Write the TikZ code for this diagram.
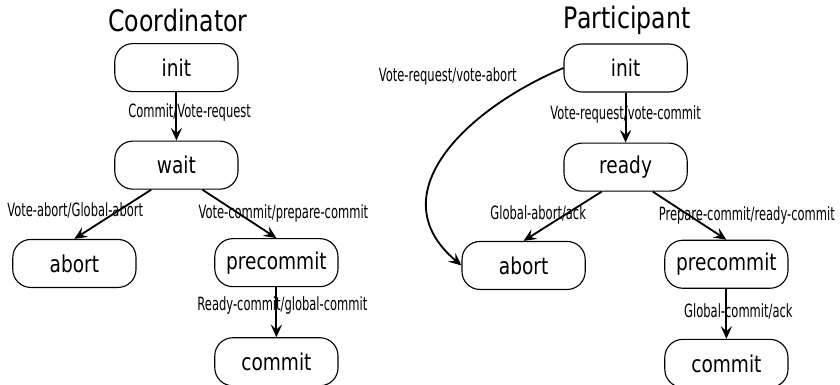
\documentclass[tikz,border=0pt]{standalone}
\usepackage{fontspec}
\newfontfamily\titlefont[FakeStretch=0.8]{DejaVu Sans}
\newfontfamily\labelfont[FakeStretch=0.63]{DejaVu Sans}
\usepackage{tikz}
\usetikzlibrary{arrows.meta,positioning}
\tikzset{
  state_box/.style={draw,line width=0.8pt,rounded corners=0.45cm,
    minimum width=3.08cm,minimum height=1.2cm,inner sep=1pt,
    font=\titlefont\fontsize{16.5}{18}\selectfont},
  title_txt/.style={font=\titlefont\fontsize{21}{24}\selectfont,inner sep=0pt},
  lbl/.style={font=\labelfont\fontsize{13}{14}\selectfont,inner sep=0pt},
  arr/.style={-{Stealth[length=9pt,width=8pt,inset=3.5pt]},line width=1.3pt},
}

\begin{document}
\begin{tikzpicture}
    \useasboundingbox (0,0) rectangle (21,9.6);

    % coordinator
    \node[title_txt] (c_title) at (4.45,9.1) {Coordinator};
    \node[state_box] (c_init) at (4.41,7.91) {init};
    \node[state_box,below=1.21cm of c_init] (c_wait) {wait};
    \node[state_box,below=1.23cm of c_wait,xshift=-2.55cm] (c_abort) {abort};
    \node[state_box,below=1.21cm of c_wait,xshift=2.5cm] (c_pre) {precommit};
    \node[state_box,below=1.25cm of c_pre] (c_commit) {commit};

    \draw[arr](c_init)--node[lbl,xshift=0.33cm,yshift=0.1cm]{Commit/Vote-request}(c_wait);
    \draw[arr]([xshift=-0.63cm]c_wait.south)--node[lbl,xshift=-0.94cm,yshift=0.09cm]{Vote-abort/Global-abort}(c_abort.north);
    \draw[arr]([xshift=0.65cm]c_wait.south)--node[lbl,xshift=1.1cm]{Vote-commit/prepare-commit}(c_pre.north);
    \draw[arr](c_pre)--node[lbl,xshift=0.15cm,yshift=0.18cm]{Ready-commit/global-commit}(c_commit);

    % participant
    \node[title_txt] (p_title) at (15.68,9.1) {Participant};
    \node[state_box] (p_init) at (15.64,7.9) {init};
    \node[state_box,below=1.25cm of p_init] (p_ready) {ready};
    \node[state_box,below=1.23cm of p_ready,xshift=-2.55cm] (p_abort) {abort};
    \node[state_box,below=1.2cm of p_ready,xshift=2.52cm] (p_pre) {precommit};
    \node[state_box,below=1.25cm of p_pre] (p_commit) {commit};

    \draw[arr](p_init)--node[lbl,yshift=0.09cm]{Vote-request/vote-commit}(p_ready);
    \draw[arr](p_init.west) to[out=203,in=140,looseness=1.25]
      node[lbl,pos=0,anchor=east,xshift=-1.15cm,yshift=-0.22cm]{Vote-request/vote-abort}(p_abort.west);
    \draw[arr]([xshift=-0.6cm]p_ready.south)--node[lbl,xshift=-0.61cm,yshift=0.06cm]{Global-abort/ack}(p_abort.north);
    \draw[arr]([xshift=0.68cm]p_ready.south)--node[lbl,xshift=1.43cm]{Prepare-commit/ready-commit}(p_pre.north);
    \draw[arr](p_pre)--node[lbl,xshift=0.3cm,yshift=0.06cm]{Global-commit/ack}(p_commit);
  \end{tikzpicture}
\end{document}
